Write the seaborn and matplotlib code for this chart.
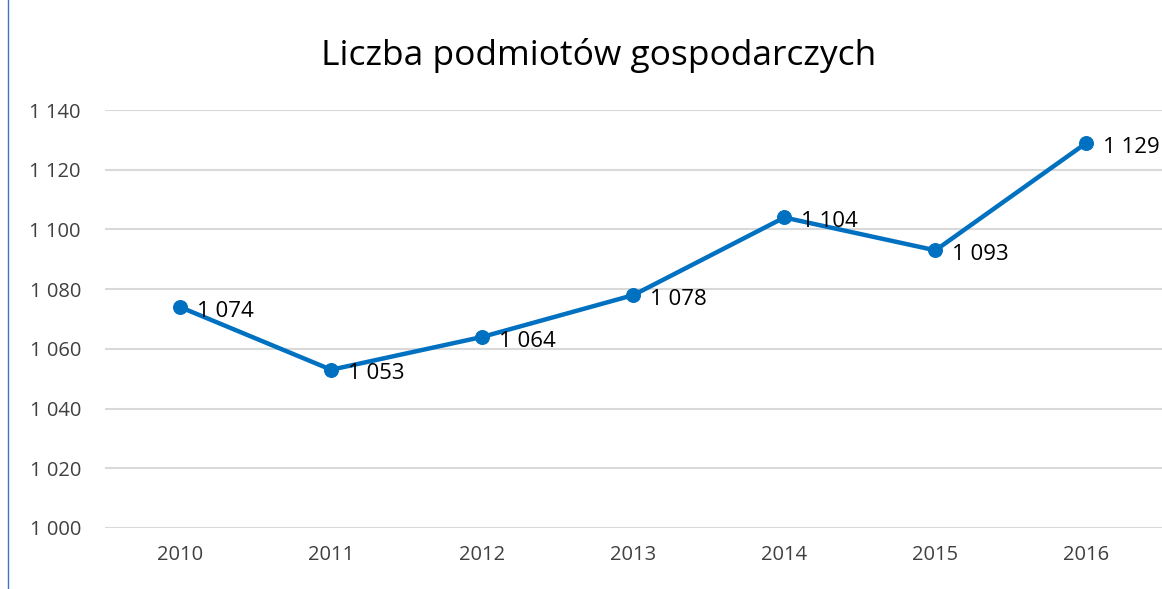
import matplotlib
matplotlib.use("Agg")
import matplotlib.pyplot as plt
import matplotlib.ticker as mticker
import seaborn as sns
import pandas as pd

# data
years = ["2010", "2011", "2012", "2013", "2014", "2015", "2016"]
values = [1074, 1053, 1064, 1078, 1104, 1093, 1129]
y_ticks = [1000, 1020, 1040, 1060, 1080, 1100, 1120, 1140]

df = pd.DataFrame({"rok": years, "liczba": values})

sns.set_style("white")
plt.rcParams["font.family"] = ["Open Sans", "DejaVu Sans"]

fig = plt.figure(figsize=(11.62, 5.89), dpi=100)
ax = fig.add_axes([0.09, 0.1036, 0.91, 0.7096])

sns.lineplot(data=df, x="rok", y="liczba", ax=ax, color="#0070C0",
             linewidth=3.2, marker="o", markersize=10,
             markeredgecolor="#0070C0", sort=False)

ax.set_xlim(-0.5, len(years) - 0.5)
ax.set_ylim(1000, 1140)
ax.set_yticks(y_ticks)
ax.yaxis.set_major_formatter(
    mticker.FuncFormatter(lambda v, p: f"{int(v):,}".replace(",", " ")))
ax.grid(axis="y", color="#D9D9D9", linewidth=1.5)
ax.set_axisbelow(True)
for s in ax.spines.values():
    s.set_visible(False)
ax.tick_params(axis="both", length=0, labelsize=14.5, colors="#404040")
ax.tick_params(axis="y", pad=17)
ax.tick_params(axis="x", pad=12)
ax.set_xlabel("")
ax.set_ylabel("")

# data labels
for i, v in enumerate(values):
    ax.annotate(f"{v:,}".replace(",", " "), (i, v), xytext=(12, -3),
                textcoords="offset points", va="center", ha="left",
                fontsize=16, color="black")

fig.text(0.515, 0.905, "Liczba podmiotów gospodarczych", ha="center",
         va="center", fontsize=25.5, color="black")

# thin blue border on the left
fig.add_artist(plt.Line2D([8 / 1162, 8 / 1162], [0, 1], color="#4472C4",
                          linewidth=1, transform=fig.transFigure))

fig.savefig("out.png", dpi=100)
